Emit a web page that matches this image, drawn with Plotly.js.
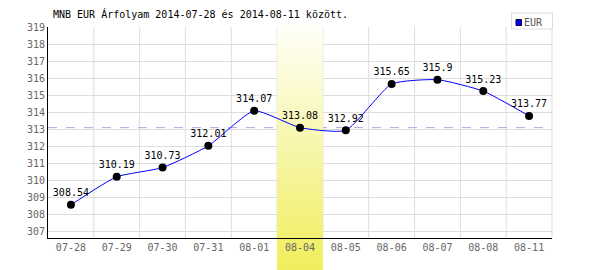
<!DOCTYPE html>
<html><head><meta charset="utf-8">
<script src="https://cdn.plot.ly/plotly-3.0.1.min.js"></script>
<style>html,body{margin:0;padding:0;background:#fff}#chart{width:600px;height:270px}</style>
</head><body><div id="chart"></div>
<script>
const dates = ["07-28","07-29","07-30","07-31","08-01","08-04","08-05","08-06","08-07","08-08","08-11"];
const values = [308.54,310.19,310.73,312.01,314.07,313.08,312.92,315.65,315.9,315.23,313.77];
const seriesName = "EUR";
const titleText = "MNB EUR Árfolyam 2014-07-28 és 2014-08-11 között.";
const highlightDate = "08-04";
const refValue = 313.08;
const yTicks = [307,308,309,310,311,312,313,314,315,316,317,318,319];

const idx = dates.map((d,i)=>i);
const hi = dates.indexOf(highlightDate);
const yMin = 306.59, yMax = 319;
const gradLow = 304.706, gradHigh = 319.235;
const MONO = "DejaVu Sans Mono, Liberation Mono, monospace";

// plot area geometry (px) used for legend placement
const PL = 48, PR = 552, PT = 27, PB = 238;
const px2x = p => (p-PL)/(PR-PL);
const px2y = p => (PB-p)/(PB-PT);

// gradient image for band (covers parts outside the plot area)
const cv = document.createElement('canvas');
cv.width = 4; cv.height = 247;
const ctx = cv.getContext('2d');
const g = ctx.createLinearGradient(0,0,0,247);
g.addColorStop(0,'#fffffa'); g.addColorStop(1,'#f0ee5c');
ctx.fillStyle = g; ctx.fillRect(0,0,4,247);
const bandImg = cv.toDataURL();

const traces = [
  { // highlight band inside plot (above grid, below line)
    x: [hi-0.5, hi+0.5, hi+0.5, hi-0.5, hi-0.5],
    y: [gradLow, gradLow, gradHigh, gradHigh, gradLow],
    mode: 'lines', line: {width:0}, fill: 'toself',
    fillcolor: '#f6f4a0',
    fillgradient: {type:'vertical', colorscale:[[0,'#f0ee5c'],[1,'#fffffa']], start: gradLow, stop: gradHigh},
    hoverinfo: 'skip', showlegend: false
  },
  {
    x: idx, y: values, name: seriesName,
    mode: 'lines+markers+text',
    line: {color:'#0000ff', width:1, shape:'spline', smoothing:0.5},
    marker: {color:'#000000', size:8},
    text: values.map(v=>String(v)),
    textposition: 'top center',
    textfont: {family: MONO, size: 10, color:'#000'},
    cliponaxis: false,
    showlegend: false
  }
];

const layout = {
  width: 600, height: 270,
  margin: {l:PL, r:600-PR, t:PT, b:270-PB, pad:0},
  paper_bgcolor: '#ffffff', plot_bgcolor: '#ffffff',
  font: {family: MONO, size: 10, color:'#666'},
  showlegend: false,
  title: {text: titleText, x: 53/600, xanchor:'left', xref:'container', y: 1-14/270, yanchor:'middle', yref:'container',
          font:{family: MONO, size:10, color:'#000'}},
  xaxis: {
    type:'linear', range:[-0.5, dates.length-0.5],
    tickvals: idx, ticktext: dates,
    showgrid: false, zeroline:false,
    showline: true, linecolor:'#000', linewidth:1,
    ticks:'', tickfont:{family: MONO, size:10, color:'#666'}, fixedrange:true
  },
  yaxis: {
    range:[yMin, yMax], tickvals: yTicks, ticktext: yTicks.map(String),
    showgrid: true, gridcolor:'#dddddd', gridwidth:1, zeroline:false,
    showline: true, linecolor:'#000', linewidth:1,
    ticks:'', tickfont:{family: MONO, size:10, color:'#666'}, fixedrange:true
  },
  shapes: [
    ...idx.slice(1).map(i=>({type:'line', xref:'x', yref:'paper', x0:i-0.5, x1:i-0.5, y0:0, y1:1, line:{color:'#dddddd', width:1}, layer:'below'})),
    {type:'line', xref:'paper', yref:'paper', x0:1, x1:1, y0:0, y1:1, line:{color:'#dddddd', width:1}, layer:'below'},
    {type:'line', xref:'paper', yref:'y', x0:0, x1:1, y0:refValue, y1:refValue, line:{color:'#aaaadd', width:1, dash:'dash'}, layer:'below'},
    // legend box
    {type:'rect', xref:'paper', yref:'paper', x0:px2x(511.5), x1:px2x(552.5), y0:px2y(29), y1:px2y(13), line:{color:'#dddddd', width:1}, fillcolor:'#ffffff', layer:'above'},
    {type:'rect', xref:'paper', yref:'paper', x0:px2x(516), x1:px2x(521.5), y0:px2y(25.5), y1:px2y(19.5), line:{color:'#000033', width:1}, fillcolor:'#0000ff', layer:'above'}
  ],
  annotations: [
    {text: seriesName, xref:'paper', yref:'paper', x: px2x(522.5), y: px2y(22), xanchor:'left', yanchor:'middle', showarrow:false,
     font:{family: MONO, size:10, color:'#555'}, borderpad:0}
  ],
  images: [{source: bandImg, xref:'x', yref:'paper', x: hi-0.5, y: 1+4/211, sizex:1, sizey: 247/211, sizing:'stretch', xanchor:'left', yanchor:'top', layer:'below'}]
};
Plotly.newPlot('chart', traces, layout, {displayModeBar:false, staticPlot:true});
</script></body></html>
